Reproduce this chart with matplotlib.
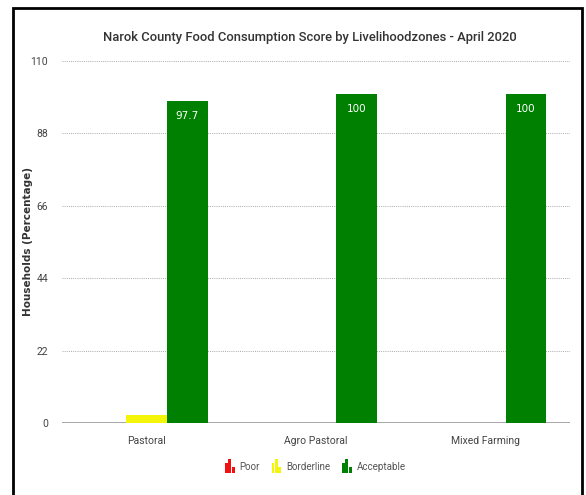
import numpy as np
import matplotlib.pyplot as plt
from matplotlib.patches import Rectangle
from matplotlib.legend_handler import HandlerBase

zones = ['Pastoral', 'Agro Pastoral', 'Mixed Farming']
series = ['Poor', 'Borderline', 'Acceptable']
poor = [0, 0, 0]
borderline = [2.3, 0, 0]
acceptable = [97.7, 100, 100]
colors = ['#f21010', '#f5f50a', '#008000']
yticks = [0, 22, 44, 66, 88, 110]

plt.rcParams['font.family'] = ['Roboto', 'DejaVu Sans']


class BarIcon(HandlerBase):
    # little three-bar icon like the original legend
    def create_artists(self, legend, orig, xd, yd, w, h, fs, trans):
        c = orig.get_facecolor()
        hs = [1.5, 2.1, 0.9]
        bw = w / 3.4
        return [Rectangle((xd + i * bw * 1.2, yd - 0.45 * h), bw, h * hs[i],
                          facecolor=c, edgecolor='none', transform=trans)
                for i in range(3)]


fig = plt.figure(figsize=(5.86, 4.95), dpi=100)
ax = fig.add_axes([62 / 586, 1 - 423 / 495, 508 / 586, 362 / 495])

x = np.arange(len(zones))
bw = 0.24
bars = []
for i, (vals, col) in enumerate(zip([poor, borderline, acceptable], colors)):
    b = ax.bar(x + (i - 1) * bw, vals, bw, color=col, label=series[i], zorder=3)
    bars.append(b)

for rect, v in zip(bars[2], acceptable):
    ax.text(rect.get_x() + rect.get_width() / 2, v - 3.0, f'{v:g}',
            ha='center', va='top', color='white', fontsize=7.5,
            family='DejaVu Sans', zorder=4)

ax.set_xlim(-0.5, 2.5)
ax.set_ylim(0, 110)
ax.set_yticks(yticks)
ax.set_xticks(x)
ax.set_xticklabels(zones)
ax.tick_params(length=0, labelsize=7.5, labelcolor='#444444', pad=10)
ax.tick_params(axis='x', pad=9)
for y in yticks[1:]:
    ax.axhline(y, color='#aaaaaa', lw=0.7, ls=(0, (1, 1.2)), zorder=1)
ax.axhline(0, color='#999999', lw=1.2, zorder=2)
for s in ax.spines.values():
    s.set_visible(False)

ax.set_ylabel('Households (Percentage)', fontsize=7.5, fontweight='bold',
              color='#333333', family='DejaVu Sans')
ax.yaxis.set_label_coords(-0.058, 0.5)
fig.text(0.528, 1 - 38 / 495, 'Narok County Food Consumption Score by Livelihoodzones - April 2020',
         ha='center', va='center', fontsize=9.4, color='#333333', fontweight='medium')

handles = [Rectangle((0, 0), 1, 1, facecolor=c) for c in colors]
fig.legend(handles, series, loc='center', bbox_to_anchor=(0.538, 1 - 467 / 495),
           ncol=3, frameon=False, fontsize=7, labelcolor='#555555',
           handler_map={Rectangle: BarIcon()}, handlelength=1.0,
           handletextpad=0.5, columnspacing=1.2)

# black frame around the chart
fig.add_artist(Rectangle((13 / 586, -0.01), 569 / 586, 1 - 8 / 495 + 0.01,
                         transform=fig.transFigure, fill=False,
                         edgecolor='black', lw=2))

fig.savefig('out.png', dpi=100)
